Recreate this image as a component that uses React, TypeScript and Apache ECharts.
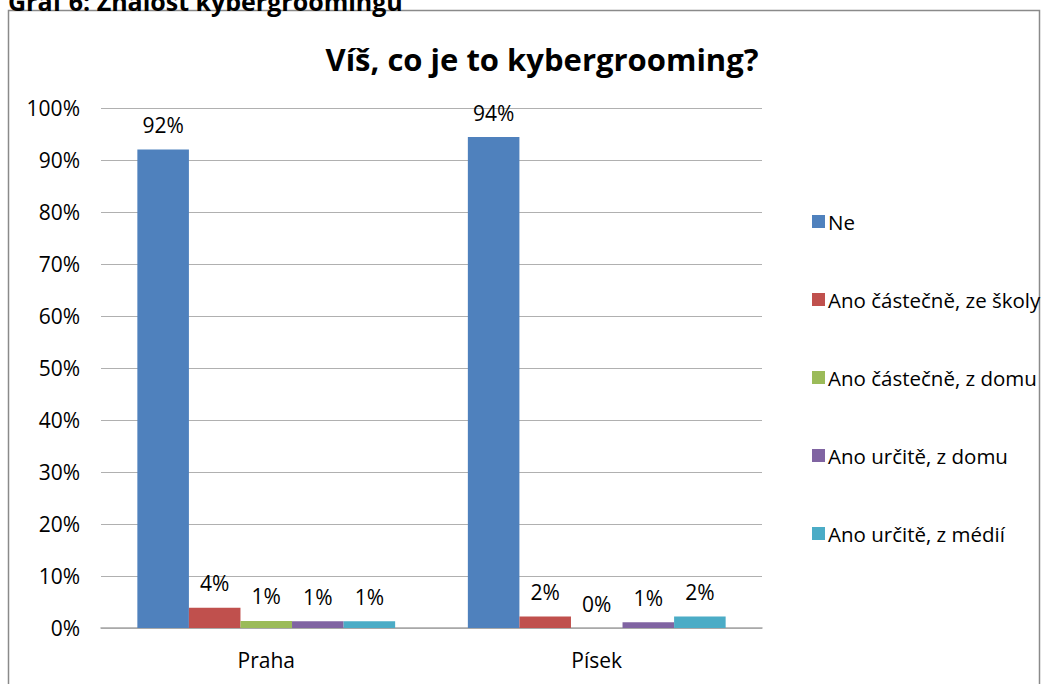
import React, { useEffect, useRef } from "react";
import * as echarts from "echarts";

const categories = ["Praha", "Písek"];
const seriesNames = [
  "Ne",
  "Ano částečně, ze školy",
  "Ano částečně, z domu",
  "Ano určitě, z domu",
  "Ano určitě, z médií",
];
const ne = [92, 94.4];
const castecneSkola = [3.9, 2.2];
const castecneDomu = [1.35, 0];
const urciteDomu = [1.3, 1.1];
const urciteMedia = [1.3, 2.2];
const colors = ["#4F81BD", "#C0504D", "#9BBB59", "#8064A2", "#4BACC6"];
const yTicks = [0, 10, 20, 30, 40, 50, 60, 70, 80, 90, 100];

const FONT = "'Open Sans', Lato, sans-serif";

export default function App() {
  const ref = useRef<HTMLDivElement>(null);
  useEffect(() => {
    if (!ref.current) return;
    const chart = echarts.init(ref.current, null, { renderer: "svg" });
    const values = [ne, castecneSkola, castecneDomu, urciteDomu, urciteMedia];
    chart.setOption({
      animation: false,
      backgroundColor: "#ffffff",
      title: {
        text: "Víš, co je to kybergrooming?",
        left: 537,
        textAlign: "center",
        top: 38,
        textStyle: { fontFamily: FONT, fontSize: 31, fontWeight: "bold", color: "#000" },
      },
      graphic: [
        {
          type: "text",
          x: 8,
          y: 13,
          style: {
            text: "Graf 6: Znalost kybergroomingu",
            font: "bold 25px " + FONT,
            fill: "#000",
            verticalAlign: "bottom",
          },
        },
        {
          type: "rect",
          shape: { x: 8.5, y: 10.5, width: 1031, height: 700 },
          style: { fill: "none", stroke: "#8a8a8a", lineWidth: 1.5 },
          z: -1,
        },
      ],
      legend: {
        orient: "vertical",
        left: 807,
        top: 206,
        itemWidth: 13,
        itemHeight: 13,
        itemGap: 57,
        icon: "rect",
        textStyle: { fontFamily: FONT, fontSize: 20.5, color: "#000", padding: [0, 0, 0, -2] },
        data: seriesNames,
      },
      grid: { left: 101, right: 294, top: 108, bottom: 56, containLabel: false },
      xAxis: {
        type: "category",
        data: categories,
        axisLine: { lineStyle: { color: "#a6a6a6", width: 1.5 } },
        axisTick: { show: false },
        axisLabel: { fontFamily: FONT, fontSize: 21, color: "#000", margin: 21 },
      },
      yAxis: {
        type: "value",
        min: 0,
        max: 100,
        interval: 10,
        axisLine: { show: false },
        axisTick: { show: false },
        splitLine: { lineStyle: { color: "#b0b0b0", width: 1.2 } },
        axisLabel: {
          fontFamily: FONT,
          fontSize: 21,
          color: "#000",
          margin: 21,
          formatter: (v: number) => (yTicks.includes(v) ? v + "%" : ""),
        },
      },
      series: seriesNames.map((name, i) => ({
        name,
        type: "bar",
        data: values[i],
        barGap: "0%",
        barCategoryGap: "22%",
        itemStyle: { color: colors[i] },
        label: {
          show: true,
          position: "top",
          distance: 14,
          fontFamily: FONT,
          fontSize: 21,
          color: "#000",
          formatter: (p: any) => Math.round(p.value) + "%",
        },
      })),
    });
    return () => chart.dispose();
  }, []);
  return (
    <div
      ref={ref}
      style={{ position: "absolute", left: 0, top: 0, width: 1056, height: 684 }}
    />
  );
}
